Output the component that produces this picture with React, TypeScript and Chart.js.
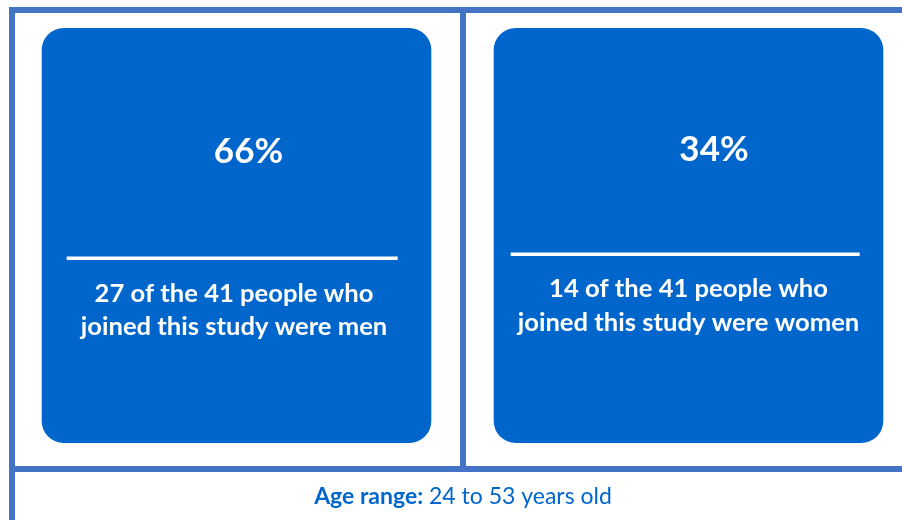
import { useEffect, useRef } from 'react';
import { Chart, registerables } from 'chart.js';

Chart.register(...registerables);

// ---- data ----
const groups = ['Men', 'Women'];
const groupNouns = ['men', 'women'];
const percents = [66, 34];
const counts = [27, 14];
const totalPeople = 41;
const panelHeights = [1, 1];
const ageMin = 24;
const ageMax = 53;

// ---- styles ----
const FRAME = '#4472C4';
const BOX = '#0066CC';
const FONT = 'Lato, "Open Sans", sans-serif';
const panelStyle = [
  { pctDx: 12, pctDy: 124, ruleDy: 228.5, ruleX0: 25, ruleX1: 356, textDx: -2.5, textDy: [266, 299] },
  { pctDx: 25.5, pctDy: 122, ruleDy: 224.5, ruleX0: 17, ruleX1: 366, textDx: 0, textDy: [261, 295] },
];

const panelPlugin = {
  id: 'panels',
  beforeDatasetsDraw(chart: any) {
    const { ctx, chartArea } = chart;
    const xs = chart.scales.x;
    const mid = Math.round((xs.getPixelForValue(0) + xs.getPixelForValue(1)) / 2);
    const left = Math.round(chartArea.left - 1.5);
    const top = Math.round(chartArea.top - 21);
    const hLineY = Math.round(chartArea.bottom + 23);
    ctx.save();
    ctx.fillStyle = FRAME;
    ctx.fillRect(left, top, chart.width, 6);
    ctx.fillRect(left, top, 6, chart.height);
    ctx.fillRect(mid - 3, top, 6, hLineY - top);
    ctx.fillRect(left, hLineY, chart.width, 6);

    // bottom caption
    const bold = 'Age range:';
    const rest = ` ${ageMin} to ${ageMax} years old`;
    ctx.textBaseline = 'alphabetic';
    ctx.fillStyle = BOX;
    ctx.font = `bold 23px ${FONT}`;
    const wb = ctx.measureText(bold).width;
    ctx.font = `23px ${FONT}`;
    const wr = ctx.measureText(rest).width;
    const sx = mid - (wb + wr) / 2;
    const by = hLineY + 38;
    ctx.font = `bold 23px ${FONT}`;
    ctx.textAlign = 'left';
    ctx.fillText(bold, sx, by);
    ctx.font = `23px ${FONT}`;
    ctx.fillText(rest, sx + wb, by);
    ctx.restore();
  },
  afterDatasetsDraw(chart: any) {
    const { ctx } = chart;
    const meta = chart.getDatasetMeta(0);
    ctx.save();
    meta.data.forEach((bar: any, i: number) => {
      const st = panelStyle[i];
      const bx = bar.x - bar.width / 2;
      const top = Math.min(bar.y, bar.base);
      ctx.fillStyle = '#ffffff';
      ctx.textAlign = 'center';
      ctx.textBaseline = 'middle';
      ctx.font = `bold 35px ${FONT}`;
      ctx.fillText(`${percents[i]}%`, bar.x + st.pctDx, top + st.pctDy);
      ctx.fillRect(bx + st.ruleX0, top + st.ruleDy, st.ruleX1 - st.ruleX0, 3.5);
      ctx.font = `bold 25.6px ${FONT}`;
      const lines = [
        `${counts[i]} of the ${totalPeople} people who`,
        `joined this study were ${groupNouns[i]}`,
      ];
      lines.forEach((ln, j) => ctx.fillText(ln, bar.x + st.textDx, top + st.textDy[j]));
    });
    ctx.restore();
  },
};

export default function App() {
  const ref = useRef<HTMLCanvasElement | null>(null);
  useEffect(() => {
    if (!ref.current) return;
    const chart = new Chart(ref.current, {
      type: 'bar',
      data: {
        labels: groups,
        datasets: [
          {
            data: panelHeights,
            backgroundColor: BOX,
            borderRadius: 22,
            borderSkipped: false,
            barPercentage: 0.862,
            categoryPercentage: 1,
          },
        ],
      },
      options: {
        responsive: false,
        animation: false,
        devicePixelRatio: 1,
        layout: { padding: { left: 10.5, right: 1.5, top: 28, bottom: 77 } },
        plugins: { legend: { display: false }, tooltip: { enabled: false } },
        scales: {
          x: { display: false },
          y: { display: false, min: 0, max: 1 },
        },
      },
      plugins: [panelPlugin],
    });
    return () => chart.destroy();
  }, []);
  return (
    <div style={{ position: 'fixed', left: 0, top: 0, width: 902, height: 520, overflow: 'hidden', background: '#fff' }}>
      <canvas ref={ref} width={916} height={520} style={{ width: 916, height: 520, display: 'block' }} />
    </div>
  );
}
